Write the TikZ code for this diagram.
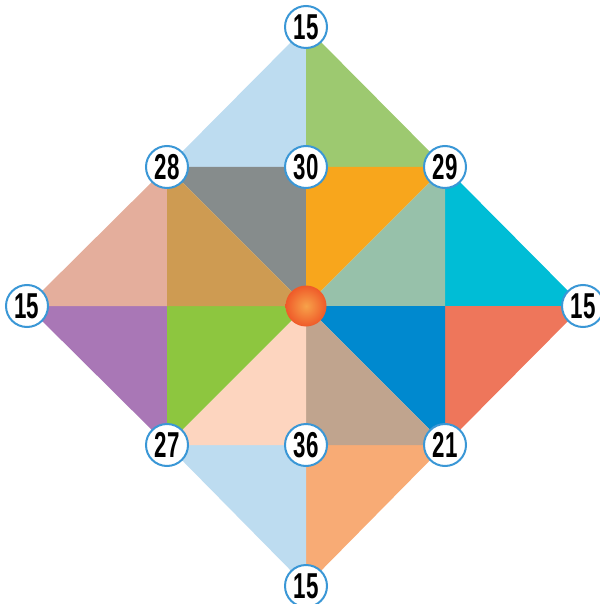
\documentclass[tikz,border=0pt]{standalone}
\usepackage{fontspec}
\setmainfont{Liberation Sans}
\usetikzlibrary{calc}

\definecolor{skyblue}{HTML}{BDDCF0}
\definecolor{leafgreen}{HTML}{9DC970}
\definecolor{tealcyan}{HTML}{00BDD6}
\definecolor{coral}{HTML}{EE765B}
\definecolor{apricot}{HTML}{F8AB75}
\definecolor{lilac}{HTML}{A977B6}
\definecolor{rosy}{HTML}{E4AE9C}
\definecolor{slate}{HTML}{868C8C}
\definecolor{amber}{HTML}{F8A61C}
\definecolor{sage}{HTML}{97C1AA}
\definecolor{ocean}{HTML}{0089CF}
\definecolor{taupe}{HTML}{C0A48E}
\definecolor{blush}{HTML}{FDD5BF}
\definecolor{lime}{HTML}{8DC63F}
\definecolor{ochre}{HTML}{CE9B52}
\definecolor{ringblue}{HTML}{3A97D6}
\definecolor{ballin}{HTML}{F7A24A}
\definecolor{ballout}{HTML}{EF5A29}

\newcommand{\digits}[1]{\scalebox{0.62}[1]{#1}}

\tikzset{
  num/.style={circle, draw=ringblue, line width=1pt, fill=white,
    minimum size=21pt, inner sep=0pt,
    font=\bfseries\fontsize{18}{18}\selectfont}
}

\begin{document}
\begin{tikzpicture}[x=0.5pt, y=-0.5pt]
\useasboundingbox (0,0) rectangle (599,604);

% --- Corner points ---
\coordinate (O)  at (306,306);
\coordinate (T)  at (306,27);
\coordinate (B)  at (306,586);
\coordinate (L)  at (27,306);
\coordinate (R)  at (583,306);
\coordinate (TL) at (167,167);
\coordinate (TM) at (306,167);
\coordinate (TR) at (445,167);
\coordinate (RM) at (445,306);
\coordinate (BR) at (445,445);
\coordinate (BM) at (306,445);
\coordinate (BL) at (167,445);
\coordinate (LM) at (167,306);

% --- Outer triangles ---
\foreach \a/\b/\c/\col in {T/TL/TM/skyblue, T/TM/TR/leafgreen,
    R/TR/RM/tealcyan, R/RM/BR/coral,
    B/BR/BM/apricot, B/BM/BL/skyblue,
    L/BL/LM/lilac, L/LM/TL/rosy}
    \fill[\col] (\a) -- (\b) -- (\c) -- cycle;

% --- Inner square, cut into eight ---
\foreach \a/\b/\col in {TL/TM/slate, TM/TR/amber, TR/RM/sage, RM/BR/ocean,
    BR/BM/taupe, BM/BL/blush, BL/LM/lime, LM/TL/ochre}
    \fill[\col] (O) -- (\a) -- (\b) -- cycle;

% --- Centre ball ---
\node[circle, minimum size=20.5pt, inner sep=0pt, inner color=ballin,
    outer color=ballout] (ball) at (O) {};

% --- Numbers ---
\node[num] (nT)  at (T)  {\digits{15}};
\node[num] (nL)  at (L)  {\digits{15}};
\node[num] (nR)  at (R)  {\digits{15}};
\node[num] (nB)  at (B)  {\digits{15}};
\node[num] (nTL) at (TL) {\digits{28}};
\node[num] (nTM) at (TM) {\digits{30}};
\node[num] (nTR) at (TR) {\digits{29}};
\node[num] (nBL) at (BL) {\digits{27}};
\node[num] (nBM) at (BM) {\digits{36}};
\node[num] (nBR) at (BR) {\digits{21}};
\end{tikzpicture}
\end{document}
